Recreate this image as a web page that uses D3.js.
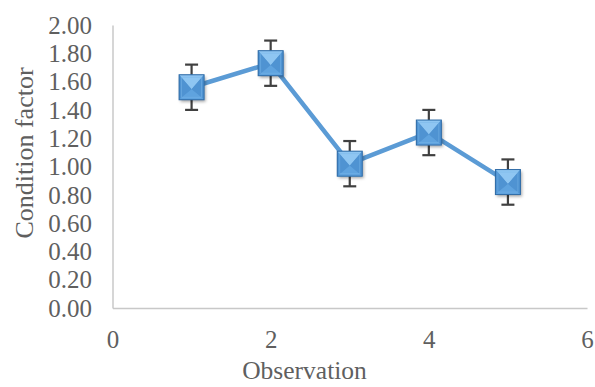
<!DOCTYPE html>
<html>
<head>
<meta charset="utf-8">
<script src="https://cdn.jsdelivr.net/npm/d3@7"></script>
<style>
body{margin:0;background:#fff;}
</style>
</head>
<body>
<div class="canvas"></div>
<script>
const observation=[1,2,3,4,5],
conditionFactor=[1.56,1.73,1.02,1.24,0.89],
errorBar=[0.16,0.16,0.16,0.16,0.16],
yTicks=[0,0.2,0.4,0.6,0.8,1.0,1.2,1.4,1.6,1.8,2.0],
xTicks=[0,2,4,6];

const canvasWidth=595,canvasHeight=387,
plotLeft=112.5,plotRight=587,plotTop=25,plotBottom=308,
font="'Liberation Serif','Times New Roman',serif",
grey="#5f5f5f";

const xScale=d3.scaleLinear().domain([0,6]).range([plotLeft,plotRight]);
const yScale=d3.scaleLinear().domain([0,2]).range([plotBottom,plotTop]);

const svg=d3.select(".canvas").append("svg")
 .attr("width",canvasWidth)
 .attr("height",canvasHeight);

const defs=svg.append("defs");
const f=defs.append("filter").attr("id","shadow").attr("x","-50%").attr("y","-50%").attr("width","200%").attr("height","200%");
f.append("feDropShadow").attr("dx",1.5).attr("dy",2).attr("stdDeviation",1.5).attr("flood-color","#000").attr("flood-opacity",0.35);

// axes
const yAxis=d3.axisLeft(yScale).tickValues(yTicks).tickFormat(d3.format(".2f")).tickSize(0).tickPadding(20.5);
const xAxis=d3.axisBottom(xScale).tickValues(xTicks).tickFormat(d3.format("d")).tickSize(0).tickPadding(22);

const gy=svg.append("g").attr("transform",`translate(${plotLeft},0)`).call(yAxis);
const gx=svg.append("g").attr("transform",`translate(0,${plotBottom})`).call(xAxis);
[gx,gy].forEach(g=>{
 g.select(".domain").attr("stroke","#c8c8c8").attr("stroke-width",1.5);
 g.selectAll("text").attr("fill",grey).style("font-family",font).style("font-size","25px");
});
gy.selectAll("text").attr("dy","0.33em");

svg.append("text")
 .attr("x",304.5).attr("y",379)
 .attr("text-anchor","middle").attr("fill",grey)
 .style("font-family",font).style("font-size","25.5px")
 .text("Observation");

svg.append("text")
 .attr("transform",`translate(33,153) rotate(-90)`)
 .attr("text-anchor","middle").attr("fill",grey)
 .style("font-family",font).style("font-size","26px")
 .text("Condition factor");

const data=observation.map((o,i)=>({x:o,y:conditionFactor[i],e:errorBar[i]}));

// error bars
const eb=svg.append("g").attr("stroke","#404040").attr("stroke-width",2.2);
data.forEach(d=>{
 const cx=xScale(d.x);
 eb.append("line").attr("x1",cx).attr("x2",cx).attr("y1",yScale(d.y+d.e)).attr("y2",yScale(d.y-d.e));
 eb.append("line").attr("x1",cx-6.5).attr("x2",cx+6.5).attr("y1",yScale(d.y+d.e)).attr("y2",yScale(d.y+d.e));
 eb.append("line").attr("x1",cx-6.5).attr("x2",cx+6.5).attr("y1",yScale(d.y-d.e)).attr("y2",yScale(d.y-d.e));
});

// line
const line=d3.line().x(d=>xScale(d.x)).y(d=>yScale(d.y));
svg.append("path").datum(data)
 .attr("d",line).attr("fill","none")
 .attr("stroke","#5b9bd5").attr("stroke-width",4.5).attr("stroke-linejoin","round");

// bevelled square markers
const s=12.5;
const faces=[
 {p:[[-s,-s],[s,-s],[0,2]],c:"#8fc6f2"},
 {p:[[-s,-s],[0,2],[-s,s]],c:"#4f93d2"},
 {p:[[s,-s],[0,2],[s,s]],c:"#4f93d2"},
 {p:[[-s,s],[0,2],[s,s]],c:"#5fa3df"}
];
const m=svg.selectAll("g.marker").data(data).enter().append("g")
 .attr("class","marker")
 .attr("transform",d=>`translate(${xScale(d.x)},${yScale(d.y)})`);
m.append("rect").attr("x",-s).attr("y",-s).attr("width",2*s).attr("height",2*s)
 .attr("fill","#5b9bd5").attr("filter","url(#shadow)");
faces.forEach(fc=>{
 m.append("path").attr("d","M"+fc.p.map(q=>q.join(",")).join("L")+"Z").attr("fill",fc.c);
});
m.append("rect").attr("x",-s+2.5).attr("y",-s+2.5).attr("width",2*s-5).attr("height",2*s-5)
 .attr("fill","none").attr("stroke","#7ab7ea").attr("stroke-width",0.8).attr("opacity",0.6);
m.append("rect").attr("x",-s).attr("y",-s).attr("width",2*s).attr("height",2*s)
 .attr("fill","none").attr("stroke","#2e6aa5").attr("stroke-width",1);
</script>
</body>
</html>
